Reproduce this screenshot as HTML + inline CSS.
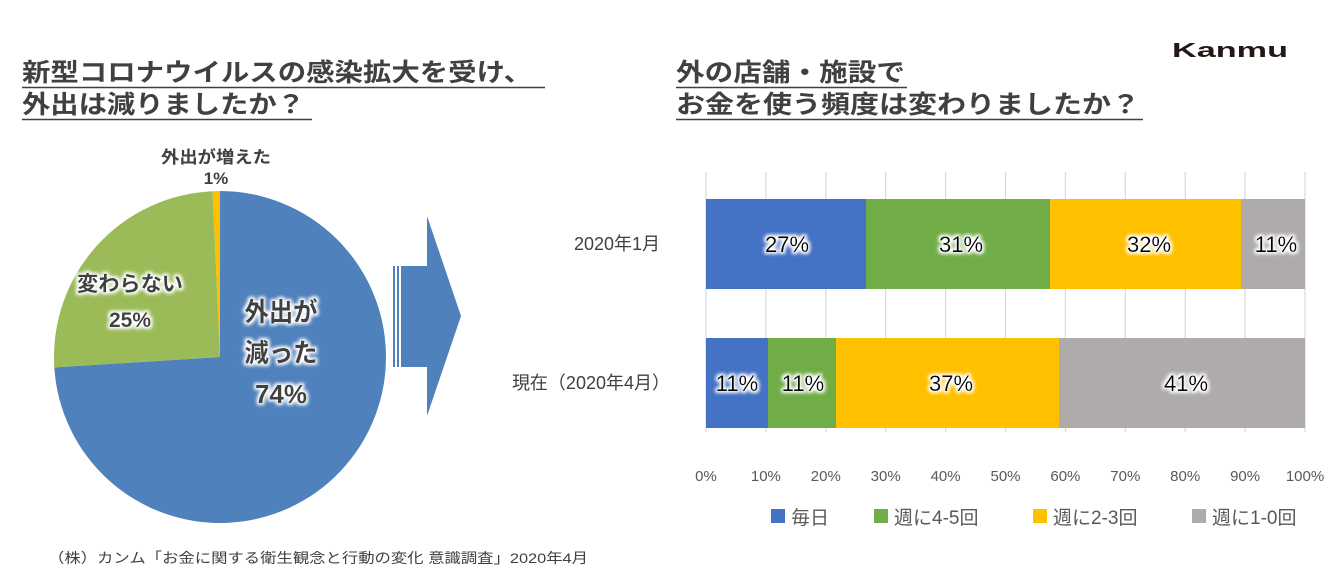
<!DOCTYPE html>
<html><head><meta charset="utf-8"><style>
html,body{margin:0;padding:0;background:#fff;width:1342px;height:586px;overflow:hidden}
svg{display:block}
text{font-family:"Liberation Sans","Noto Sans CJK JP",sans-serif}
</style></head><body>
<svg width="1342" height="586" viewBox="0 0 1342 586" xmlns="http://www.w3.org/2000/svg">
<defs>
<filter id="glow" x="-20%" y="-20%" width="140%" height="140%">
<feMorphology in="SourceAlpha" operator="dilate" radius="2" result="d"/>
<feGaussianBlur in="d" stdDeviation="1.5" result="b"/>
<feFlood flood-color="#fff"/><feComposite in2="b" operator="in" result="w"/>
<feMerge><feMergeNode in="w"/><feMergeNode in="SourceGraphic"/></feMerge>
</filter>
</defs>
<g font-weight="bold" fill="#404040" font-size="25">
<text x="22" y="81" textLength="510" lengthAdjust="spacingAndGlyphs">新型コロナウイルスの感染拡大を受け、</text>
<text x="22" y="113" textLength="283" lengthAdjust="spacingAndGlyphs">外出は減りましたか？</text>
<text x="676" y="81" textLength="229" lengthAdjust="spacingAndGlyphs">外の店舗・施設で</text>
<text x="676" y="113" textLength="464" lengthAdjust="spacingAndGlyphs">お金を使う頻度は変わりましたか？</text>
</g>
<g stroke="#404040" stroke-width="1.5">
<line x1="22" y1="87.5" x2="545" y2="87.5"/>
<line x1="22" y1="119.5" x2="312" y2="119.5"/>
<line x1="676" y1="87.5" x2="907" y2="87.5"/>
<line x1="676" y1="119.5" x2="1143" y2="119.5"/>
</g>
<text x="1172" y="57" font-size="20" font-weight="bold" fill="#231815" textLength="116" lengthAdjust="spacingAndGlyphs">Kanmu</text>
<path d="M220,357 L220,191 A166,166 0 1,1 54.3,367.4 Z" fill="#4f81bd"/>
<path d="M220,357 L54.3,367.4 A166,166 0 0,1 212.6,191.2 Z" fill="#9bbb59"/>
<path d="M220,357 L212.6,191.2 A166,166 0 0,1 220,191 Z" fill="#ffc000"/>
<g font-weight="bold" fill="#404040">
<text x="216" y="163" font-size="17" text-anchor="middle" textLength="110" lengthAdjust="spacingAndGlyphs">外出が増えた</text>
<text x="216" y="184" font-size="17" text-anchor="middle">1%</text>
<g filter="url(#glow)">
<text x="130" y="291" font-size="21" text-anchor="middle" textLength="106" lengthAdjust="spacingAndGlyphs">変わらない</text>
<text x="130" y="327" font-size="21" text-anchor="middle">25%</text>
<text x="281" y="321" font-size="26" text-anchor="middle" textLength="73" lengthAdjust="spacingAndGlyphs">外出が</text>
<text x="281" y="362" font-size="26" text-anchor="middle" textLength="73" lengthAdjust="spacingAndGlyphs">減った</text>
<text x="281" y="403" font-size="26" text-anchor="middle">74%</text>
</g>
</g>
<rect x="393" y="266" width="2" height="101" fill="#4f81bd"/>
<rect x="397" y="266" width="2" height="101" fill="#4f81bd"/>
<polygon points="401,266 427,266 427,216 461,316 427,416 427,367 401,367" fill="#4f81bd"/>
<g stroke="#d9d9d9" stroke-width="1.2">
<line x1="706" y1="172" x2="706" y2="432"/>
<line x1="765.9" y1="172" x2="765.9" y2="432"/>
<line x1="825.8" y1="172" x2="825.8" y2="432"/>
<line x1="885.7" y1="172" x2="885.7" y2="432"/>
<line x1="945.6" y1="172" x2="945.6" y2="432"/>
<line x1="1005.5" y1="172" x2="1005.5" y2="432"/>
<line x1="1065.4" y1="172" x2="1065.4" y2="432"/>
<line x1="1125.3" y1="172" x2="1125.3" y2="432"/>
<line x1="1185.2" y1="172" x2="1185.2" y2="432"/>
<line x1="1245.1" y1="172" x2="1245.1" y2="432"/>
<line x1="1305" y1="172" x2="1305" y2="432"/>
</g>
<rect x="706" y="199" width="160" height="90" fill="#4472c4"/>
<rect x="866" y="199" width="184" height="90" fill="#70ad47"/>
<rect x="1050" y="199" width="191" height="90" fill="#ffc000"/>
<rect x="1241" y="199" width="64" height="90" fill="#afabab"/>
<rect x="706" y="338" width="62" height="90" fill="#4472c4"/>
<rect x="768" y="338" width="68" height="90" fill="#70ad47"/>
<rect x="836" y="338" width="223" height="90" fill="#ffc000"/>
<rect x="1059" y="338" width="246" height="90" fill="#afabab"/>
<g font-size="22" fill="#000" text-anchor="middle" filter="url(#glow)">
<text x="787" y="252">27%</text>
<text x="961" y="252">31%</text>
<text x="1149" y="252">32%</text>
<text x="1276" y="252">11%</text>
<text x="737" y="391">11%</text>
<text x="803" y="391">11%</text>
<text x="951" y="391">37%</text>
<text x="1186" y="391">41%</text>
</g>
<g font-size="18" fill="#404040">
<text x="660" y="250" text-anchor="end">2020年1月</text>
<text x="670" y="389" text-anchor="end">現在（2020年4月）</text>
</g>
<g font-size="15" fill="#595959" text-anchor="middle">
<text x="706" y="481">0%</text>
<text x="765.9" y="481">10%</text>
<text x="825.8" y="481">20%</text>
<text x="885.7" y="481">30%</text>
<text x="945.6" y="481">40%</text>
<text x="1005.5" y="481">50%</text>
<text x="1065.4" y="481">60%</text>
<text x="1125.3" y="481">70%</text>
<text x="1185.2" y="481">80%</text>
<text x="1245.1" y="481">90%</text>
<text x="1305" y="481">100%</text>
</g>
<g font-size="19" fill="#595959">
<rect x="771" y="509" width="14" height="14" fill="#4472c4"/><text x="791" y="524">毎日</text>
<rect x="874" y="509" width="14" height="14" fill="#70ad47"/><text x="894" y="524">週に4-5回</text>
<rect x="1033" y="509" width="14" height="14" fill="#ffc000"/><text x="1053" y="524">週に2-3回</text>
<rect x="1192" y="509" width="14" height="14" fill="#afabab"/><text x="1212" y="524">週に1-0回</text>
</g>
<text x="48" y="563" font-size="14" fill="#404040" textLength="540" lengthAdjust="spacingAndGlyphs">（株）カンム「お金に関する衛生観念と行動の変化 意識調査」2020年4月</text>
</svg>
</body></html>
